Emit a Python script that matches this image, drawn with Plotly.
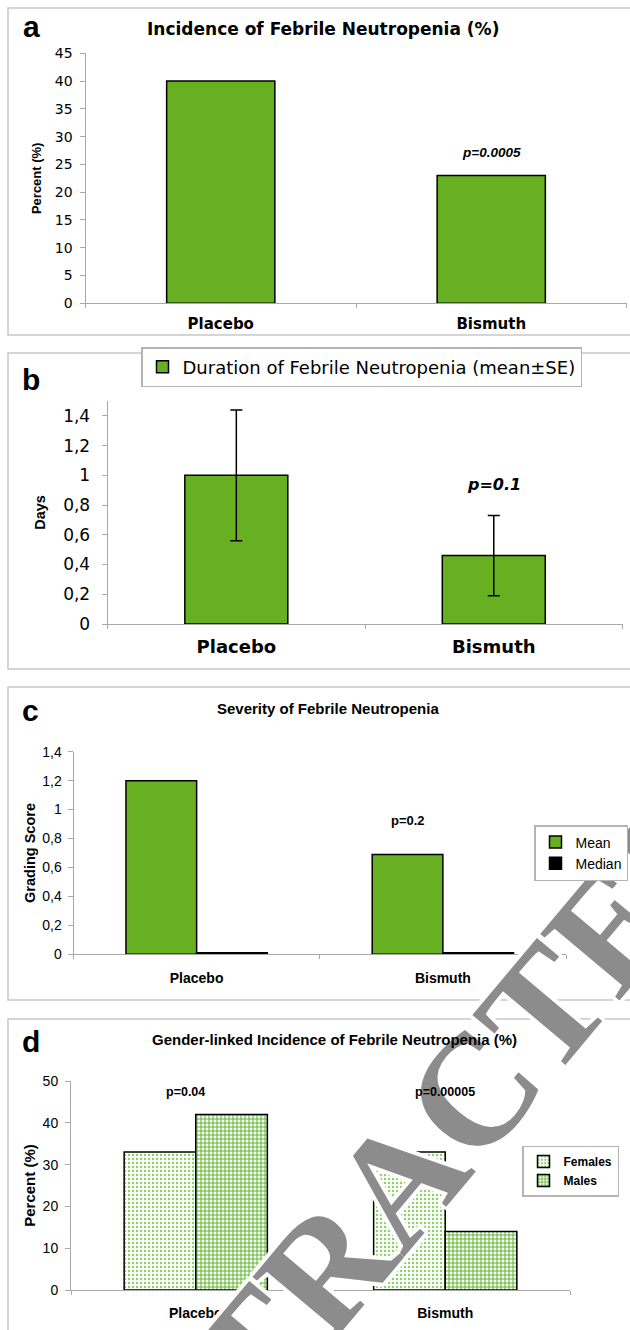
import plotly.graph_objects as go

W, H = 630, 1330

# ---------------- data ----------------
categories = ["Placebo", "Bismuth"]

incidence_pct = [40, 23]                 # panel a
duration_mean = [1.0, 0.46]              # panel b
duration_se = [0.44, 0.27]
severity_mean = [1.2, 0.69]              # panel c
severity_median = [0.01, 0.01]
females_pct = [33, 33]                   # panel d
males_pct = [42, 14]

p_a = "p=0.0005"
p_b = "p=0.1"
p_c = "p=0.2"
p_d = ["p=0.04", "p=0.00005"]

# ---------------- styles ----------------
GREEN = "#66b022"
AXIS = "#a8a8a8"
BOX = "#c8c8c8"
WIDE = "DejaVu Sans"
ARIAL = "Liberation Sans, Arial, sans-serif"
SERIF = "Liberation Serif, Times New Roman, DejaVu Serif, serif"


def fx(p):
    return p / W


def fy(p):
    return 1 - p / H


fig = go.Figure()

# panel a
fig.add_trace(go.Bar(x=categories, y=incidence_pct, xaxis="x", yaxis="y",
                     width=0.4, marker=dict(color=GREEN, line=dict(color="black", width=1.5)),
                     showlegend=False, name="Incidence"))
# panel b
fig.add_trace(go.Bar(x=categories, y=duration_mean, xaxis="x2", yaxis="y2",
                     width=0.4, marker=dict(color=GREEN, line=dict(color="black", width=1.5)),
                     error_y=dict(type="data", array=duration_se, color="black", thickness=1.5, width=6),
                     name="Duration of Febrile Neutropenia (mean±SE)", legend="legend"))
# panel c
fig.add_trace(go.Bar(x=categories, y=severity_mean, xaxis="x3", yaxis="y3",
                     width=0.287, offset=-0.287,
                     marker=dict(color=GREEN, line=dict(color="black", width=1.5)),
                     name="Mean", legend="legend2"))
fig.add_trace(go.Bar(x=categories, y=severity_median, xaxis="x3", yaxis="y3",
                     width=0.287, offset=0,
                     marker=dict(color="black", line=dict(color="black", width=1.5)),
                     name="Median", legend="legend2"))
# panel d
fig.add_trace(go.Bar(x=categories, y=females_pct, xaxis="x4", yaxis="y4",
                     width=0.287, offset=-0.287,
                     marker=dict(color="#8fd16a", line=dict(color="black", width=1.5),
                                 pattern=dict(shape=".", fillmode="replace", bgcolor="white",
                                              fgcolor="#8fd16a", size=4, solidity=0.3)),
                     name="Females", legend="legend3"))
fig.add_trace(go.Bar(x=categories, y=males_pct, xaxis="x4", yaxis="y4",
                     width=0.287, offset=0,
                     marker=dict(color="#5cb82a", line=dict(color="black", width=1.5),
                                 pattern=dict(shape="+", fillmode="replace", bgcolor="white",
                                              fgcolor="#5cb82a", size=4, solidity=0.45)),
                     name="Males", legend="legend3"))


def xaxis(dom, anchor, font, standoff):
    return dict(domain=[fx(dom[0]), fx(dom[1])], anchor=anchor, showline=True, linecolor=AXIS,
                linewidth=1, ticks="outside", tickson="boundaries", ticklen=4, tickcolor=AXIS,
                tickfont=font, ticklabelstandoff=standoff, showgrid=False, zeroline=False,
                automargin=False, fixedrange=True)


def yaxis(dom, anchor, rng, dtick, font, standoff, title, tfont, tstand):
    return dict(domain=[fy(dom[1]), fy(dom[0])], anchor=anchor, range=rng, dtick=dtick,
                showline=True, linecolor=AXIS, linewidth=1, ticks="outside", ticklen=5,
                tickcolor=AXIS, tickfont=font, ticklabelstandoff=standoff, showgrid=False,
                zeroline=False, automargin=False,
                title=dict(text=title, font=tfont, standoff=tstand), fixedrange=True)


lay = dict(
    width=W, height=H, margin=dict(l=0, r=0, t=0, b=0, autoexpand=False),
    paper_bgcolor="white", plot_bgcolor="rgba(0,0,0,0)",
    barmode="overlay", separators=", ", showlegend=True,
    xaxis=xaxis([85.5, 626.5], "y", dict(family=WIDE, size=15, color="black", weight="bold"), 7),
    yaxis=yaxis([53.3, 303.3], "x", [0, 45], 5, dict(family=WIDE, size=14, color="black"), 4,
                "Percent (%)", dict(family=ARIAL, size=13, color="black", weight="bold"), 10),
    xaxis2=xaxis([107.6, 622.5], "y2", dict(family=WIDE, size=18, color="black", weight="bold"), 6),
    yaxis2=yaxis([401, 624], "x2", [0, 1.5], 0.2, dict(family=WIDE, size=17, color="black"), 8,
                 "Days", dict(family=ARIAL, size=14.5, color="black", weight="bold"), 14),
    xaxis3=xaxis([73.5, 566], "y3", dict(family=ARIAL, size=14, color="black", weight="bold"), 11),
    yaxis3=yaxis([751.7, 954.3], "x3", [0, 1.4], 0.2, dict(family=ARIAL, size=14, color="black"), 3,
                 "Grading Score", dict(family=ARIAL, size=14.5, color="black", weight="bold"), 3),
    xaxis4=xaxis([71, 570], "y4", dict(family=ARIAL, size=14, color="black", weight="bold"), 10),
    yaxis4=yaxis([1081, 1290], "x4", [0, 50], 10, dict(family=ARIAL, size=14, color="black"), 4,
                 "Percent (%)", dict(family=ARIAL, size=15, color="black", weight="bold"), 3),
    legend=dict(x=fx(141), y=fy(367), xanchor="left", yanchor="middle",
                font=dict(family=WIDE, size=18, color="black"), bordercolor="#b4b4b4",
                borderwidth=1.5, bgcolor="white", orientation="v"),
    legend2=dict(x=fx(534), y=fy(853), xanchor="left", yanchor="middle",
                 font=dict(family=ARIAL, size=14, color="black"), bordercolor="#b4b4b4",
                 borderwidth=1.5, bgcolor="white"),
    legend3=dict(x=fx(522), y=fy(1171), xanchor="left", yanchor="middle",
                 font=dict(family=ARIAL, size=12, color="black", weight="bold"),
                 bordercolor="#b4b4b4", borderwidth=1.5, bgcolor="white"),
)
fig.update_layout(**lay)

# panel frames
for (x0, y0, x1, y1) in [(8, 8, 634, 335), (8, 353, 634, 669), (8, 687, 634, 1000), (8, 1019, 634, 1340)]:
    fig.add_shape(type="rect", xref="paper", yref="paper", x0=fx(x0), x1=fx(x1), y0=fy(y1), y1=fy(y0),
                  line=dict(color=BOX, width=1.5), fillcolor="rgba(0,0,0,0)", layer="below")

# watermark: label of an invisible shape, drawn above the bars but under legends/annotations
halo = ", ".join(f"{dx}px {dy}px 0 white" for dx, dy in
                 [(4, 0), (-4, 0), (0, 4), (0, -4), (3, 3), (-3, -3), (3, -3), (-3, 3)])
wm_font = dict(family=SERIF, size=158, color="#8c8c8c", weight="bold", shadow=halo)
wm_shape = dict(type="line", xref="paper", yref="paper", layer="above",
                x0=fx(376), x1=fx(396), y0=fy(1169), y1=fy(1169),
                line=dict(color="rgba(0,0,0,0)", width=0))
try:
    fig.add_shape(**wm_shape, label=dict(text="RETRACTED", textangle=-50, textposition="middle",
                                         xanchor="center", yanchor="middle", font=wm_font))
except ValueError:
    wm_font.pop("shadow")
    fig.add_shape(**wm_shape, label=dict(text="RETRACTED", textangle=-50, textposition="middle",
                                         xanchor="center", yanchor="middle", font=wm_font))

ann = []
# panel letters
for letter, xp, yp in [("a", 31, 26.8), ("b", 31, 379.5), ("c", 30, 710.2), ("d", 31, 1041.2)]:
    ann.append(dict(text=letter, x=fx(xp), y=fy(yp), xref="paper", yref="paper", showarrow=False,
                    xanchor="center", yanchor="middle",
                    font=dict(family=ARIAL, size=30, color="black", weight="bold")))
# titles
ann.append(dict(text="Incidence of Febrile Neutropenia (%)", x=fx(323), y=fy(28.5), xref="paper", yref="paper",
                showarrow=False, xanchor="center", yanchor="middle",
                font=dict(family=WIDE, size=17, color="black", weight="bold")))
ann.append(dict(text="Severity of Febrile Neutropenia", x=fx(328), y=fy(708), xref="paper", yref="paper",
                showarrow=False, xanchor="center", yanchor="middle",
                font=dict(family=ARIAL, size=15, color="black", weight="bold")))
ann.append(dict(text="Gender-linked Incidence of Febrile Neutropenia (%)", x=fx(334), y=fy(1039.7),
                xref="paper", yref="paper", showarrow=False, xanchor="center", yanchor="middle",
                font=dict(family=ARIAL, size=15, color="black", weight="bold")))
# p-values
ann.append(dict(text=p_a, x=1, y=27.2, xref="x", yref="y", showarrow=False,
                xanchor="center", yanchor="middle",
                font=dict(family=ARIAL, size=13.5, color="black", weight="bold", style="italic")))
ann.append(dict(text=p_b, x=1, y=0.935, xref="x2", yref="y2", showarrow=False,
                xanchor="center", yanchor="middle",
                font=dict(family=WIDE, size=16, color="black", weight="bold", style="italic")))
ann.append(dict(text=p_c, x=1 - 0.1435, y=0.928, xref="x3", yref="y3", showarrow=False,
                xanchor="center", yanchor="middle",
                font=dict(family=ARIAL, size=13, color="black", weight="bold")))
ann.append(dict(text=p_d[0], x=-0.04, y=47.4, xref="x4", yref="y4", showarrow=False,
                xanchor="center", yanchor="middle",
                font=dict(family=ARIAL, size=12.5, color="black", weight="bold")))
ann.append(dict(text=p_d[1], x=1, y=47.4, xref="x4", yref="y4", showarrow=False,
                xanchor="center", yanchor="middle",
                font=dict(family=ARIAL, size=12.5, color="black", weight="bold")))
fig.update_layout(annotations=ann)

fig.write_html("out.html")
